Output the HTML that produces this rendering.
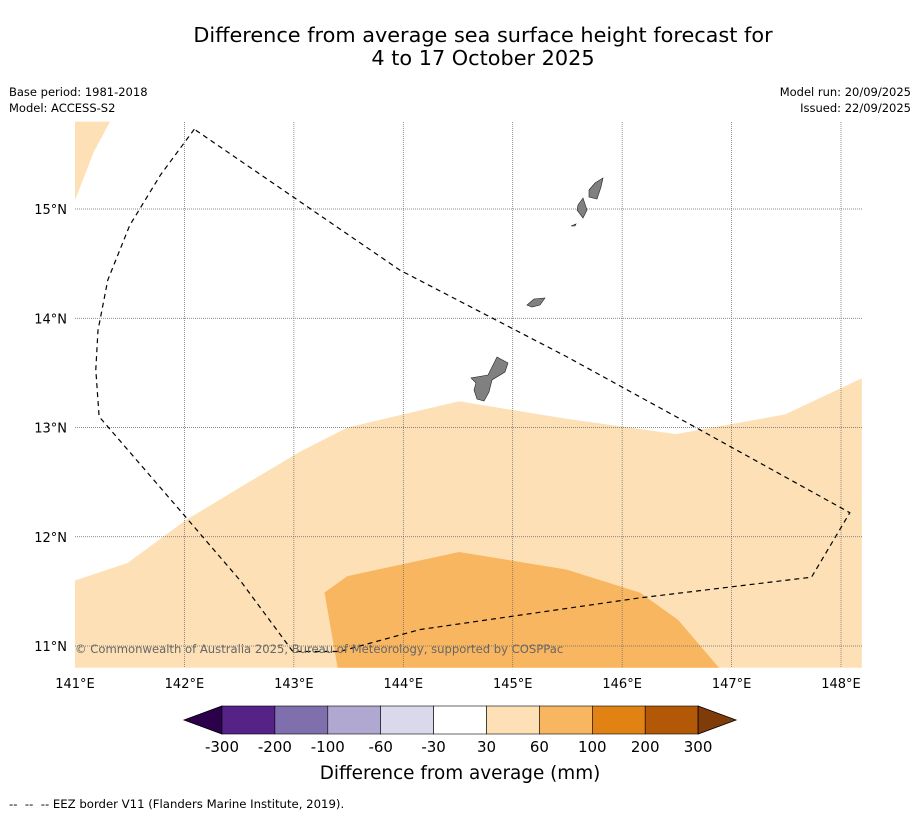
<!DOCTYPE html>
<html><head><meta charset="utf-8"><style>
body{margin:0;background:#fff;font-family:"Liberation Sans","DejaVu Sans",sans-serif;}
</style></head><body>
<svg id="chart" width="919" height="816" viewBox="0 0 919 816" xmlns="http://www.w3.org/2000/svg" font-family="DejaVu Sans, Liberation Sans, sans-serif">
<rect width="919" height="816" fill="#fff"/>
<text x="483" y="42" font-size="20.8" text-anchor="middle">Difference from average sea surface height forecast for</text>
<text x="483" y="65" font-size="20.8" text-anchor="middle">4 to 17 October 2025</text>
<text x="9" y="96" font-size="11.5">Base period: 1981-2018</text>
<text x="9" y="112" font-size="11.5">Model: ACCESS-S2</text>
<text x="911" y="96" font-size="11.5" text-anchor="end">Model run: 20/09/2025</text>
<text x="911" y="112" font-size="11.5" text-anchor="end">Issued: 22/09/2025</text>
<g id="map"></g>
<g id="axes"></g>
<g id="cbar"></g>
<text x="460" y="779" font-size="18.4" text-anchor="middle">Difference from average (mm)</text>
<text x="9" y="808" font-size="11.7" xml:space="preserve">--  --  -- EEZ border V11 (Flanders Marine Institute, 2019).</text>
</svg>
<script>
const lonTicks=[141,142,143,144,145,146,147,148];
const latTicks=[11,12,13,14,15];
const regionLight=[[141,11.60],[141.48,11.76],[142.01,12.15],[142.54,12.47],[143.06,12.78],[143.49,13.00],[144.51,13.24],[145.49,13.08],[146.49,12.94],[147.49,13.12],[148.19,13.45],[148.19,10.80],[141,10.80]];
const regionLightNW=[[141,15.80],[141.32,15.80],[141.17,15.52],[141,15.08]];
const regionMid=[[143.28,11.49],[143.49,11.64],[144.51,11.86],[145.49,11.70],[146.16,11.49],[146.51,11.24],[146.885,10.80],[143.40,10.80]];
const eez=[[142.09,15.73],[141.78,15.31],[141.50,14.85],[141.30,14.35],[141.21,13.89],[141.19,13.53],[141.22,13.10],[141.96,12.24],[142.51,11.60],[142.99,10.95],[143.42,10.95],[144.15,11.15],[146.16,11.44],[147.73,11.63],[148.08,12.22],[146.71,12.98],[145.49,13.65],[143.97,14.44],[142.09,15.73]];
const cbLabels=["-300","-200","-100","-60","-30","30","60","100","200","300"];
const cbColors=["#552288","#7f70ad","#b0a8d0","#d9d9eb","#ffffff","#fde0b6","#f9b660","#e08214","#b35806"];
const X0=75,X1=862,Y0=122,Y1=668;
const lx=lon=>75+(lon-141)*109.43;
const ly=lat=>209-(lat-15)*109.25;
const NS="http://www.w3.org/2000/svg";
function mk(tag,attrs,parent){const e=document.createElementNS(NS,tag);for(const k in attrs)e.setAttribute(k,attrs[k]);parent.appendChild(e);return e;}
const map=document.getElementById('map');
const pts=a=>a.map(p=>lx(p[0]).toFixed(1)+','+ly(p[1]).toFixed(1)).join(' ');
let e;
e=mk('polygon',{points:pts(regionLight),fill:'#fde0b6'},map);


e=mk('polygon',{points:pts(regionLightNW),fill:'#fde0b6'},map);


e=mk('polygon',{points:pts(regionMid),fill:'#f9b660'},map);


lonTicks.forEach(l=>{if(l>141){const g=mk('line',{x1:lx(l),x2:lx(l),y1:Y0,y2:Y1,stroke:'#666','stroke-width':0.7,'stroke-dasharray':'1,1'},map);

}});
latTicks.forEach(l=>{const g=mk('line',{x1:X0,x2:X1,y1:ly(l),y2:ly(l),stroke:'#666','stroke-width':0.7,'stroke-dasharray':'1,1'},map);

});
const islands=[
"497,357 508,363 505,372 492,380 489,392 484,401 477,399 474,390 476,383 471,378 488,375",
"527,305 534,299 545,298 540,305 532,307",
"578,205 583,198 587,210 583,218 577,210",
"589,190 595,183 603,178 601,187 597,199 589,197",
"571,226 576,224 575,226"];
islands.forEach(p=>{const g=mk('polygon',{points:p,fill:'#808080',stroke:'#222','stroke-width':0.6},map);

});
e=mk('polyline',{points:pts(eez),fill:'none',stroke:'#000','stroke-width':1.2,'stroke-dasharray':'5,4'},map);


e=mk('text',{x:75,y:653,'font-size':11.6,fill:'#666'},map);
e.textContent='© Commonwealth of Australia 2025, Bureau of Meteorology, supported by COSPPac';


const ax=document.getElementById('axes');
lonTicks.forEach(l=>{const t=mk('text',{x:lx(l),y:688,'font-size':13,'text-anchor':'middle'},ax);t.textContent=l+'°E';

});
latTicks.forEach(l=>{const t=mk('text',{x:67,y:ly(l)+5,'font-size':13,'text-anchor':'end'},ax);t.textContent=l+'°N';

});
const cb=document.getElementById('cbar');
const cx0=222,cw=52.9,cy=706,ch=28;
e=mk('polygon',{points:`184,720 ${cx0},${cy} ${cx0},${cy+ch}`,fill:'#2d004b',stroke:'#000','stroke-width':0.8},cb);


cbColors.forEach((c,i)=>{const r=mk('rect',{x:cx0+i*cw,y:cy,width:cw,height:ch,fill:c,stroke:'#000','stroke-width':0.6},cb);

});
const cx1=cx0+cbColors.length*cw;
e=mk('polygon',{points:`${cx1},${cy} 736,720 ${cx1},${cy+ch}`,fill:'#7f3b08',stroke:'#000','stroke-width':0.8},cb);


cbLabels.forEach((s,i)=>{const t=mk('text',{x:cx0+i*cw,y:752,'font-size':15,'text-anchor':'middle'},cb);t.textContent=s;

});
</script>
</body></html>
